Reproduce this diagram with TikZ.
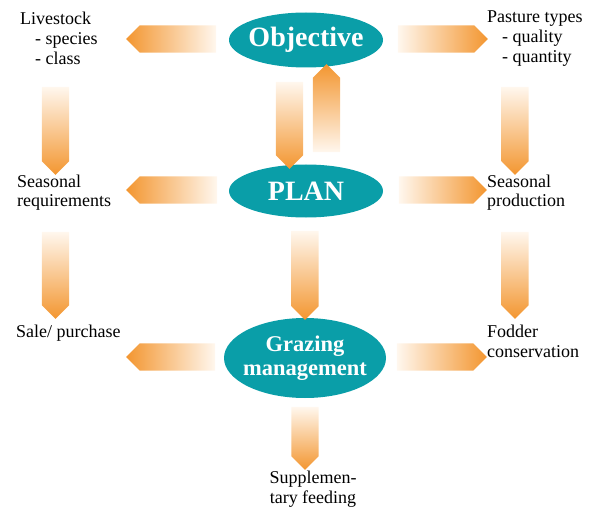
\documentclass[tikz,border=0pt]{standalone}
\usepackage{fontspec}
\setmainfont{Liberation Serif}
\usetikzlibrary{shapes.arrows, shapes.geometric, positioning, calc}

\definecolor{goalteal}{RGB}{10,158,168}
\definecolor{arrorange}{RGB}{243,150,48}
\definecolor{arrpale}{RGB}{255,247,238}

\begin{document}
\begin{tikzpicture}[
        x=1pt, y=-1pt,
        % Global Styles
        goal/.style={ellipse, fill=goalteal, text=white, inner xsep=-5pt, inner ysep=0pt, font=\bfseries\fontsize{28}{30}\selectfont},
        item/.style={anchor=base west, align=left, inner sep=0pt, font=\fontsize{18}{20}\selectfont},
        barrow/.style={single arrow, single arrow head extend=0pt, inner sep=13.5pt, draw=none},
        toleft/.style={barrow, shape border rotate=180, left color=arrorange, right color=arrpale},
        toright/.style={barrow, left color=arrpale, right color=arrorange},
        todown/.style={barrow, shape border rotate=270, top color=arrpale, bottom color=arrorange},
        toup/.style={barrow, shape border rotate=90, top color=arrorange, bottom color=arrpale}
    ]

    \useasboundingbox (0,0) rectangle (592,508);

    % --- Ellipses ---
    \node [goal, minimum width=154, minimum height=55] (objective) at (306,40) {Objective};
    \node [goal, minimum width=154, minimum height=53] (plan) at (306,191) {PLAN};
    \node [goal, minimum width=162, minimum height=80, align=center,
           font=\bfseries\fontsize{22.5}{24}\selectfont] (grazing) at (305,358) {Grazing\\management};

    % --- Texts (base = last line) ---
    \node [item] (livestock) at (20,65) {Livestock\\\hspace*{15pt}- species\\\hspace*{15pt}- class};
    \node [item] (pasture) at (487,63) {Pasture types\\\hspace*{15pt}- quality\\\hspace*{15pt}- quantity};
    \node [item] (requirements) at (17,207) {Seasonal\\requirements};
    \node [item] (production) at (487,207) {Seasonal\\production};
    \node [item] (sale) at (16,337) {Sale/ purchase};
    \node [item] (fodder) at (487,357) {Fodder\\conservation};
    \node [item, align=center, anchor=base] (supplement) at (313,503) {Supplemen-\\tary feeding};

    % --- Block arrows ---
    % Objective row
    \node [toleft, minimum height=90] (objlive) at (178,39) {};
    \node [toright, minimum height=90] (objpast) at (436,39) {};
    \node [todown, minimum height=87] (objplan) at (289.5,118.5) {};
    \node [toup, minimum height=88] (planobj) at (326.5,115) {};

    % Side columns
    \node [todown, minimum height=88] (livereq) at (55.5,124) {};
    \node [todown, minimum height=87] (reqsale) at (55.5,268.5) {};
    \node [todown, minimum height=88] (pastprod) at (515,124) {};
    \node [todown, minimum height=87] (prodfod) at (515,268.5) {};

    % PLAN row
    \node [toleft, minimum height=91] (planreq) at (178.5,190) {};
    \node [toright, minimum height=88] (planprod) at (436,190) {};
    \node [todown, minimum height=89] (plangraz) at (305,268.5) {};

    % Grazing row
    \node [toleft, minimum height=89] (grazsale) at (177.5,357) {};
    \node [toright, minimum height=90] (grazfod) at (435,357) {};
    \node [todown, minimum height=63] (grazsupp) at (305,431.5) {};

\end{tikzpicture}
\end{document}
